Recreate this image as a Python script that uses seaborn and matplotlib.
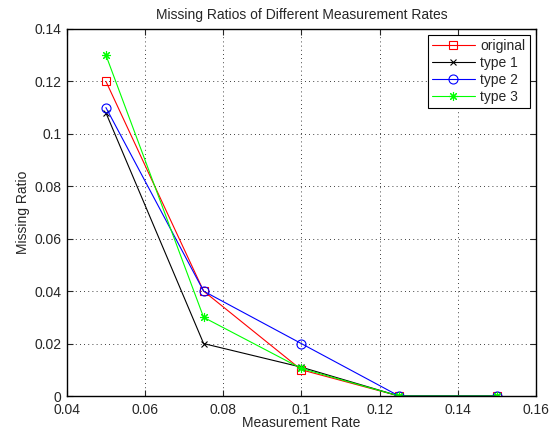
import numpy as np
import pandas as pd
import matplotlib
matplotlib.use('Agg')
import matplotlib.pyplot as plt
import seaborn as sns

# data
rates = [0.05, 0.075, 0.1, 0.125, 0.15]
original = [0.12, 0.04, 0.010, 0.0, 0.0]
type1 = [0.108, 0.02, 0.011, 0.0, 0.0]
type2 = [0.11, 0.04, 0.02, 0.0, 0.0]
type3 = [0.13, 0.03, 0.0105, 0.0, 0.0]
series_names = ['original', 'type 1', 'type 2', 'type 3']

df = pd.DataFrame({
    'rate': rates * 4,
    'ratio': original + type1 + type2 + type3,
    'series': [n for n in series_names for _ in rates],
})

sns.set_style('ticks')
plt.rcParams['font.family'] = ['Liberation Sans', 'DejaVu Sans']
plt.rcParams['font.size'] = 10

fig = plt.figure(figsize=(5.57, 4.36), dpi=100)
ax = fig.add_axes([0.120, 0.0917, 0.842, 0.842])

colors = {'original': '#ff0000', 'type 1': '#000000', 'type 2': '#0000ff', 'type 3': '#00ff00'}
markers = {'original': 's', 'type 1': 'x', 'type 2': 'o', 'type 3': (8, 2, 0)}
msizes = {'original': 5.5, 'type 1': 4.5, 'type 2': 6.5, 'type 3': 6.5}

for name in series_names:
    sub = df[df['series'] == name]
    sns.lineplot(data=sub, x='rate', y='ratio', ax=ax, color=colors[name],
                 marker=markers[name], markersize=msizes[name],
                 markerfacecolor='none', markeredgecolor=colors[name],
                 markeredgewidth=0.8, linewidth=0.8, label=name)

ax.set_xlim(0.04, 0.16)
ax.set_ylim(0, 0.14)
ax.set_xticks(np.arange(0.04, 0.161, 0.02))
ax.set_yticks(np.arange(0, 0.141, 0.02))
ax.set_xticklabels(['0.04', '0.06', '0.08', '0.1', '0.12', '0.14', '0.16'])
ax.set_yticklabels(['0', '0.02', '0.04', '0.06', '0.08', '0.1', '0.12', '0.14'])
ax.grid(True, linestyle=(0, (1, 4)), color='black', linewidth=0.6)
ax.tick_params(direction='in', top=True, right=True, length=4, labelsize=10)
ax.tick_params(axis='y', pad=4)
ax.tick_params(axis='x', pad=5)
for s in ax.spines.values():
    s.set_visible(True)
    s.set_linewidth(1.0)
    s.set_color('black')

ax.set_xlabel('Measurement Rate', fontsize=10, labelpad=-1)
ax.set_ylabel('Missing Ratio', fontsize=10, labelpad=3)
ax.set_title('Missing Ratios of Different Measurement Rates', fontsize=10, pad=7)

leg = ax.legend(loc='upper right', fancybox=False, framealpha=1, edgecolor='black',
                fontsize=10, borderaxespad=0.45, handlelength=3.1, labelspacing=0.2,
                borderpad=0.3, handletextpad=0.4)
leg.get_frame().set_linewidth(0.8)

fig.savefig('out.png', dpi=100)
